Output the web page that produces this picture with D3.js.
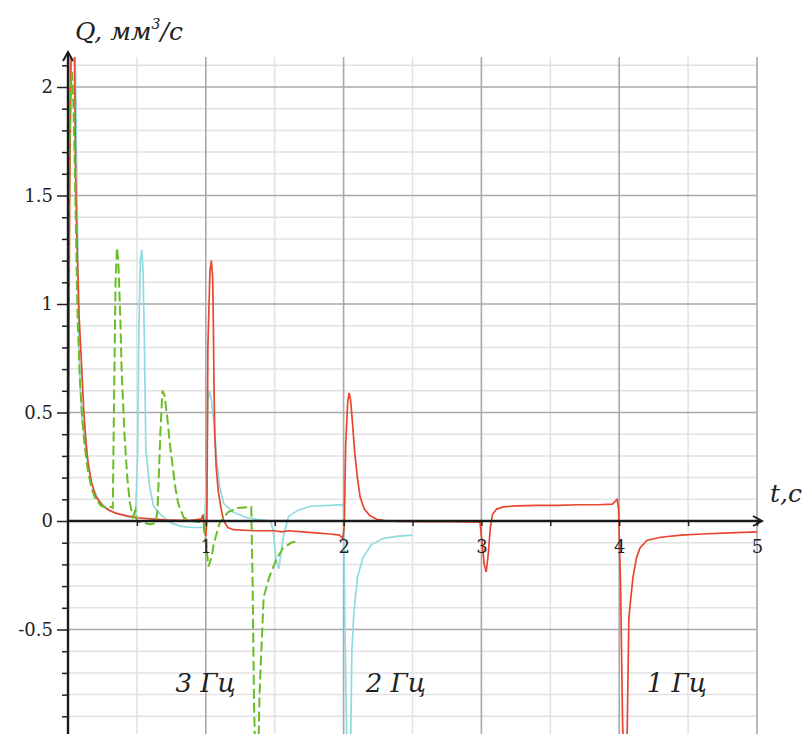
<!DOCTYPE html>
<html>
<head>
<meta charset="utf-8">
<script src="https://cdn.jsdelivr.net/npm/d3@7/dist/d3.min.js"></script>
<style>
  html, body { margin: 0; padding: 0; background: #fff; }
  svg { display: block; }
</style>
</head>
<body>
<svg id="chart" width="802" height="734"></svg>
<script>
// ---- data ----
const xMajorTicks = [1, 2, 3, 4, 5];
const xMinorTicks = [0.5, 1.5, 2.5, 3.5, 4.5];
const yMajorTicks = [-0.5, 0, 0.5, 1, 1.5, 2];
const yTickLabels = ["-0.5", "0", "0.5", "1", "1.5", "2"];
const yMinorTicks = [-0.9,-0.8,-0.7,-0.6,-0.4,-0.3,-0.2,-0.1,0.1,0.2,0.3,0.4,0.6,0.7,0.8,0.9,1.1,1.2,1.3,1.4,1.6,1.7,1.8,1.9,2.1];

// 1 Гц (red, solid)
const flow1Hz = [
  [0,0.18],[0.004,0.47],[0.012,1.5],[0.025,2.3],[0.045,2.3],[0.055,1.6],[0.065,1.3],[0.08,0.95],
  [0.1,0.7],[0.115,0.5],[0.13,0.37],[0.145,0.27],[0.17,0.18],[0.2,0.115],[0.25,0.07],[0.3,0.05],
  [0.35,0.035],[0.42,0.025],[0.5,0.015],[0.6,0.01],[0.7,0.005],[0.8,0.003],[0.9,0.003],[0.97,0.01],
  [0.98,0.03],[0.99,-0.05],[1.0,-0.07],[1.008,0.0],[1.015,0.8],[1.03,1.15],[1.04,1.2],[1.05,1.12],
  [1.055,0.9],[1.06,0.6],[1.065,0.4],[1.075,0.25],[1.09,0.14],[1.11,0.06],[1.13,0.0],[1.16,-0.03],
  [1.2,-0.04],[1.35,-0.045],[1.5,-0.045],[1.55,-0.05],[1.6,-0.045],[1.7,-0.05],[1.8,-0.055],
  [1.9,-0.06],[1.97,-0.065],[1.995,-0.08],[2.005,-0.02],[2.015,0.35],[2.03,0.55],[2.04,0.59],
  [2.05,0.56],[2.065,0.45],[2.08,0.32],[2.1,0.2],[2.12,0.11],[2.15,0.055],[2.19,0.025],[2.24,0.008],
  [2.3,0.002],[2.4,-0.002],[2.6,-0.003],[2.8,-0.003],[2.99,-0.005],[3.005,-0.1],[3.02,-0.2],
  [3.035,-0.235],[3.05,-0.15],[3.065,-0.03],[3.08,0.03],[3.11,0.055],[3.16,0.065],[3.25,0.07],
  [3.4,0.072],[3.55,0.072],[3.7,0.075],[3.85,0.075],[3.95,0.078],[3.97,0.09],[3.985,0.1],
  [3.995,0.06],[4.01,-0.3],[4.025,-0.95],[4.04,-1.1],[4.055,-1.1],[4.07,-0.45],[4.085,-0.35],
  [4.1,-0.26],[4.125,-0.17],[4.15,-0.125],[4.2,-0.09],[4.3,-0.075],[4.45,-0.065],[4.6,-0.06],
  [4.8,-0.055],[5.0,-0.05]
];

// 2 Гц (cyan, solid)
const flow2Hz = [
  [0,0],[0.005,1.0],[0.01,2.0],[0.02,2.3],[0.05,2.3],[0.06,1.8],[0.07,1.3],[0.08,0.8],[0.09,0.6],
  [0.105,0.45],[0.13,0.33],[0.17,0.17],[0.22,0.1],[0.29,0.05],[0.38,0.03],[0.45,0.018],[0.49,0.015],
  [0.505,0.3],[0.515,0.9],[0.525,1.2],[0.535,1.25],[0.545,1.15],[0.555,0.8],[0.565,0.33],
  [0.59,0.17],[0.62,0.07],[0.67,0.03],[0.75,-0.01],[0.82,-0.025],[0.9,-0.03],[0.99,-0.03],
  [1.005,0.2],[1.015,0.55],[1.025,0.6],[1.04,0.56],[1.06,0.45],[1.08,0.28],[1.1,0.16],[1.13,0.08],
  [1.2,0.04],[1.3,0.015],[1.4,0.005],[1.47,0.0],[1.49,-0.05],[1.51,-0.18],[1.53,-0.22],
  [1.545,-0.15],[1.565,-0.065],[1.6,0.02],[1.67,0.05],[1.76,0.068],[1.9,0.072],[1.99,0.075],
  [2.0,0.06],[2.01,-0.5],[2.025,-1.1],[2.05,-1.1],[2.06,-0.6],[2.075,-0.42],[2.1,-0.26],
  [2.14,-0.17],[2.2,-0.11],[2.29,-0.08],[2.4,-0.07],[2.5,-0.065]
];

// 3 Гц (green, dashed)
const flow3Hz = [
  [0,0],[0.005,1.0],[0.01,1.65],[0.02,2.0],[0.03,2.07],[0.04,1.9],[0.05,1.6],[0.06,1.25],
  [0.07,0.93],[0.085,0.67],[0.1,0.5],[0.12,0.35],[0.14,0.25],[0.17,0.15],[0.2,0.1],[0.24,0.07],
  [0.28,0.06],[0.31,0.065],[0.325,0.06],[0.335,0.6],[0.345,1.1],[0.355,1.26],[0.365,1.2],
  [0.38,0.93],[0.39,0.68],[0.41,0.4],[0.43,0.2],[0.45,0.08],[0.47,0.02],[0.49,0.05],[0.5,0.0],
  [0.55,-0.01],[0.6,-0.015],[0.635,-0.01],[0.65,0.05],[0.67,0.4],[0.685,0.6],[0.7,0.58],
  [0.72,0.48],[0.74,0.35],[0.76,0.25],[0.78,0.15],[0.8,0.08],[0.84,0.015],[0.9,0.0],[0.95,-0.005],
  [0.985,-0.01],[1.0,-0.1],[1.02,-0.21],[1.04,-0.17],[1.06,-0.1],[1.1,-0.01],[1.16,0.04],
  [1.23,0.06],[1.33,0.065],[1.34,-0.3],[1.35,-0.85],[1.36,-1.1],[1.38,-1.1],[1.39,-0.8],
  [1.4,-0.64],[1.42,-0.35],[1.46,-0.26],[1.51,-0.18],[1.56,-0.125],[1.62,-0.1],[1.65,-0.095]
];

const seriesLabels = ["1 Гц", "2 Гц", "3 Гц"];
const labelPositions = [[4.2, -0.79], [2.16, -0.79], [0.78, -0.79]];

// ---- drawing ----
const svg = d3.select("#chart");
const x = d3.scaleLinear().domain([0, 5]).range([68, 757]);
const y = d3.scaleLinear().domain([0, 2]).range([521, 87]);
const plotTop = 57, plotBottom = 734;
const serif = '"DejaVu Serif", "Liberation Serif", serif';

// grid
const grid = svg.append("g");
grid.selectAll(".hmin").data(yMinorTicks).join("line")
  .attr("x1", x(0)).attr("x2", x(5)).attr("y1", d => y(d)).attr("y2", d => y(d))
  .attr("stroke", "#e2e2e2").attr("stroke-width", 1.5);
grid.selectAll(".vmin").data(xMinorTicks).join("line")
  .attr("x1", d => x(d)).attr("x2", d => x(d)).attr("y1", plotTop).attr("y2", plotBottom)
  .attr("stroke", "#e2e2e2").attr("stroke-width", 1.5);
grid.selectAll(".hmaj").data(yMajorTicks.filter(d => d !== 0)).join("line")
  .attr("x1", x(0)).attr("x2", x(5)).attr("y1", d => y(d)).attr("y2", d => y(d))
  .attr("stroke", "#a9a9a9").attr("stroke-width", 1.6);
grid.selectAll(".vmaj").data(xMajorTicks).join("line")
  .attr("x1", d => x(d)).attr("x2", d => x(d)).attr("y1", plotTop).attr("y2", plotBottom)
  .attr("stroke", "#a9a9a9").attr("stroke-width", 1.6);

// curves
svg.append("clipPath").attr("id", "plotclip").append("rect")
  .attr("x", x(0) - 1).attr("y", plotTop).attr("width", 802 - x(0)).attr("height", plotBottom - plotTop);
const line = d3.line().x(d => x(d[0])).y(d => y(d[1]));
const curves = svg.append("g").attr("clip-path", "url(#plotclip)").attr("fill", "none");
curves.append("path").datum(flow2Hz).attr("d", line)
  .attr("stroke", "#8fdce0").attr("stroke-width", 1.7);
curves.append("path").datum(flow1Hz).attr("d", line)
  .attr("stroke", "#e8472f").attr("stroke-width", 1.7);
curves.append("path").datum(flow3Hz).attr("d", line)
  .attr("stroke", "#69be28").attr("stroke-width", 2).attr("stroke-dasharray", "10,4");

// axes
const xAxisMinor = svg.append("g").attr("transform", `translate(0,${y(0)})`)
  .call(d3.axisBottom(x).tickValues(xMinorTicks).tickSize(5).tickFormat(""));
const xAxis = svg.append("g").attr("transform", `translate(0,${y(0)})`)
  .call(d3.axisBottom(x).tickValues(xMajorTicks).tickSize(5).tickPadding(14).tickFormat(d3.format("d")));
const yAxisMinor = svg.append("g").attr("transform", `translate(${x(0)},0)`)
  .call(d3.axisLeft(y).tickValues(yMinorTicks).tickSize(6).tickFormat(""));
const yAxis = svg.append("g").attr("transform", `translate(${x(0)},0)`)
  .call(d3.axisLeft(y).tickValues(yMajorTicks).tickSize(11).tickPadding(4)
    .tickFormat((d, i) => yTickLabels[i]));
[xAxisMinor, xAxis, yAxisMinor, yAxis].forEach(g => {
  g.select(".domain").remove();
  g.attr("font-family", serif).attr("font-size", 18);
  g.selectAll(".tick line").attr("stroke", "#222").attr("stroke-width", 1.5);
  g.selectAll(".tick text").attr("fill", "#222");
});

// axis lines with arrows
const axisColor = "#1a1a1a";
svg.append("line").attr("x1", x(0)).attr("x2", 761).attr("y1", y(0)).attr("y2", y(0))
  .attr("stroke", axisColor).attr("stroke-width", 2.4);
svg.append("path").attr("d", `M${753},${y(0) - 5} L${762},${y(0)} L${753},${y(0) + 5}`)
  .attr("fill", "none").attr("stroke", axisColor).attr("stroke-width", 2);
svg.append("line").attr("x1", x(0)).attr("x2", x(0)).attr("y1", plotBottom).attr("y2", 53)
  .attr("stroke", axisColor).attr("stroke-width", 2.4);
svg.append("path").attr("d", `M${x(0) - 5},${61} L${x(0)},${52} L${x(0) + 5},${61}`)
  .attr("fill", "none").attr("stroke", axisColor).attr("stroke-width", 2);

// titles
const yTitle = svg.append("text").attr("x", 75).attr("y", 40)
  .attr("font-family", serif).attr("font-style", "italic").attr("font-size", 25).attr("fill", "#222");
yTitle.append("tspan").text("Q, мм");
yTitle.append("tspan").attr("font-size", 14).attr("dy", -11).text("3");
yTitle.append("tspan").attr("dy", 11).text("/с");

svg.append("text").attr("x", 770).attr("y", 502)
  .attr("font-family", serif).attr("font-style", "italic").attr("font-size", 25)
  .attr("fill", "#222").text("t,с");

svg.selectAll(".flabel").data(seriesLabels).join("text")
  .attr("x", (d, i) => x(labelPositions[i][0]))
  .attr("y", (d, i) => y(labelPositions[i][1]))
  .attr("font-family", serif).attr("font-style", "italic").attr("font-size", 26)
  .attr("fill", "#222").text(d => d);
</script>
</body>
</html>
